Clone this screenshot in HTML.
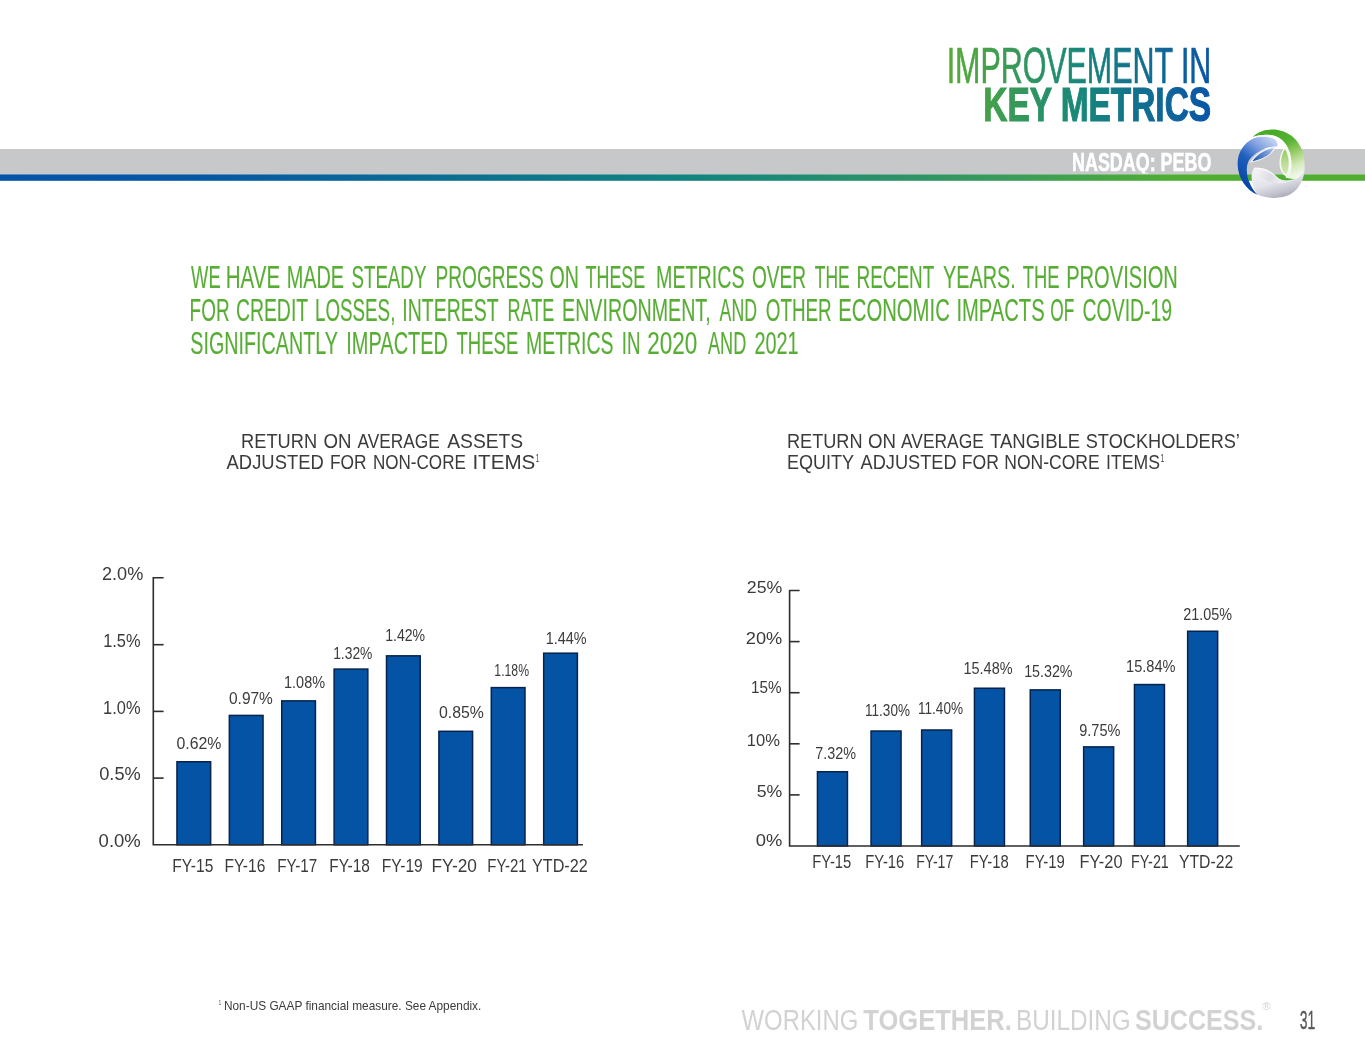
<!DOCTYPE html>
<html lang="en">
<head>
<meta charset="utf-8">
<title>Improvement in Key Metrics</title>
<style>
html,body{margin:0;padding:0;background:#fff;}
body{width:1365px;height:1062px;overflow:hidden;}
svg{display:block;font-family:"Liberation Sans",sans-serif;}
</style>
</head>
<body>
<svg width="1365" height="1062" viewBox="0 0 1365 1062">
<defs>
<linearGradient id="gline" gradientUnits="userSpaceOnUse" x1="0" y1="0" x2="1365" y2="0">
<stop offset="0" stop-color="#0553a6"/>
<stop offset="0.14" stop-color="#0557a4"/>
<stop offset="0.5" stop-color="#12837f"/>
<stop offset="0.74" stop-color="#3a9b5a"/>
<stop offset="0.86" stop-color="#4fae32"/>
<stop offset="1" stop-color="#4fae32"/>
</linearGradient>
<linearGradient id="gtitle" gradientUnits="userSpaceOnUse" x1="949" y1="0" x2="1210" y2="0">
<stop offset="0" stop-color="#57ab36"/>
<stop offset="0.5" stop-color="#17877a"/>
<stop offset="1" stop-color="#0a55a8"/>
</linearGradient>
<clipPath id="cq"><rect x="1060" y="140" width="170" height="33.6"/></clipPath>
</defs>
<rect x="0" y="149" width="1365" height="25.5" fill="#c7c8ca"/>
<rect x="0" y="174.4" width="1365" height="6.4" fill="url(#gline)"/>
<text id="t0" x="946.65" y="83.45" font-size="49.13" font-weight="normal" fill="url(#gtitle)" textLength="264.64" lengthAdjust="spacingAndGlyphs" stroke="url(#gtitle)" stroke-width="0.7">IMPROVEMENT IN</text>
<text id="t1" x="983.25" y="121.20" font-size="48.69" font-weight="bold" fill="url(#gtitle)" textLength="227.85" lengthAdjust="spacingAndGlyphs" stroke="url(#gtitle)" stroke-width="1.2">KEY METRICS</text>
<text id="t2" x="1072.05" y="170.90" font-size="25.44" font-weight="bold" fill="#ffffff" textLength="139.31" lengthAdjust="spacingAndGlyphs" stroke="#ffffff" stroke-width="0.6" clip-path="url(#cq)">NASDAQ: PEBO</text>
<text y="287.50" font-size="31.25" font-weight="normal" fill="#58ae35" stroke="#58ae35" stroke-width="0.15"><tspan id="t3" x="191.10" textLength="29.60" lengthAdjust="spacingAndGlyphs">WE</tspan> <tspan id="t4" x="225.65" textLength="54.45" lengthAdjust="spacingAndGlyphs">HAVE</tspan> <tspan id="t5" x="286.70" textLength="57.40" lengthAdjust="spacingAndGlyphs">MADE</tspan> <tspan id="t6" x="351.45" textLength="74.60" lengthAdjust="spacingAndGlyphs">STEADY</tspan> <tspan id="t7" x="435.55" textLength="108.15" lengthAdjust="spacingAndGlyphs">PROGRESS</tspan> <tspan id="t8" x="549.45" textLength="29.45" lengthAdjust="spacingAndGlyphs">ON</tspan> <tspan id="t9" x="585.50" textLength="59.75" lengthAdjust="spacingAndGlyphs">THESE</tspan> <tspan id="t10" x="656.00" textLength="88.60" lengthAdjust="spacingAndGlyphs">METRICS</tspan> <tspan id="t11" x="751.95" textLength="54.15" lengthAdjust="spacingAndGlyphs">OVER</tspan> <tspan id="t12" x="814.80" textLength="34.85" lengthAdjust="spacingAndGlyphs">THE</tspan> <tspan id="t13" x="856.50" textLength="77.46" lengthAdjust="spacingAndGlyphs">RECENT</tspan> <tspan id="t14" x="942.95" textLength="72.75" lengthAdjust="spacingAndGlyphs">YEARS.</tspan> <tspan id="t15" x="1022.80" textLength="36.80" lengthAdjust="spacingAndGlyphs">THE</tspan> <tspan id="t16" x="1066.20" textLength="111.69" lengthAdjust="spacingAndGlyphs">PROVISION</tspan></text>
<text y="320.50" font-size="31.25" font-weight="normal" fill="#58ae35" stroke="#58ae35" stroke-width="0.15"><tspan id="t17" x="189.60" textLength="39.95" lengthAdjust="spacingAndGlyphs">FOR</tspan> <tspan id="t18" x="235.90" textLength="71.90" lengthAdjust="spacingAndGlyphs">CREDIT</tspan> <tspan id="t19" x="315.00" textLength="80.35" lengthAdjust="spacingAndGlyphs">LOSSES,</tspan> <tspan id="t20" x="402.35" textLength="96.05" lengthAdjust="spacingAndGlyphs">INTEREST</tspan> <tspan id="t21" x="507.40" textLength="46.90" lengthAdjust="spacingAndGlyphs">RATE</tspan> <tspan id="t22" x="562.05" textLength="148.60" lengthAdjust="spacingAndGlyphs">ENVIRONMENT,</tspan> <tspan id="t23" x="719.60" textLength="37.46" lengthAdjust="spacingAndGlyphs">AND</tspan> <tspan id="t24" x="765.80" textLength="65.85" lengthAdjust="spacingAndGlyphs">OTHER</tspan> <tspan id="t25" x="838.25" textLength="111.55" lengthAdjust="spacingAndGlyphs">ECONOMIC</tspan> <tspan id="t26" x="956.40" textLength="88.24" lengthAdjust="spacingAndGlyphs">IMPACTS</tspan> <tspan id="t27" x="1050.35" textLength="23.99" lengthAdjust="spacingAndGlyphs">OF</tspan> <tspan id="t28" x="1082.55" textLength="89.61" lengthAdjust="spacingAndGlyphs">COVID-19</tspan></text>
<text y="354.40" font-size="31.11" font-weight="normal" fill="#58ae35" stroke="#58ae35" stroke-width="0.15"><tspan id="t29" x="190.35" textLength="147.11" lengthAdjust="spacingAndGlyphs">SIGNIFICANTLY</tspan> <tspan id="t30" x="346.30" textLength="101.70" lengthAdjust="spacingAndGlyphs">IMPACTED</tspan> <tspan id="t31" x="456.50" textLength="61.75" lengthAdjust="spacingAndGlyphs">THESE</tspan> <tspan id="t32" x="526.00" textLength="87.55" lengthAdjust="spacingAndGlyphs">METRICS</tspan> <tspan id="t33" x="621.70" textLength="18.70" lengthAdjust="spacingAndGlyphs">IN</tspan> <tspan id="t34" x="647.15" textLength="49.99" lengthAdjust="spacingAndGlyphs">2020</tspan> <tspan id="t35" x="708.00" textLength="38.21" lengthAdjust="spacingAndGlyphs">AND</tspan> <tspan id="t36" x="754.45" textLength="44.14" lengthAdjust="spacingAndGlyphs">2021</tspan></text>
<text y="447.70" font-size="20.79" font-weight="normal" fill="#3b3b3d"><tspan id="t37" x="241.05" textLength="76.04" lengthAdjust="spacingAndGlyphs">RETURN</tspan> <tspan id="t38" x="323.40" textLength="28.00" lengthAdjust="spacingAndGlyphs">ON</tspan> <tspan id="t39" x="357.55" textLength="82.20" lengthAdjust="spacingAndGlyphs">AVERAGE</tspan> <tspan id="t40" x="447.20" textLength="76.00" lengthAdjust="spacingAndGlyphs">ASSETS</tspan></text>
<text y="468.90" font-size="20.79" font-weight="normal" fill="#3b3b3d"><tspan id="t41" x="226.60" textLength="97.11" lengthAdjust="spacingAndGlyphs">ADJUSTED</tspan> <tspan id="t42" x="329.95" textLength="36.65" lengthAdjust="spacingAndGlyphs">FOR</tspan> <tspan id="t43" x="372.90" textLength="92.96" lengthAdjust="spacingAndGlyphs">NON-CORE</tspan> <tspan id="t44" x="472.40" textLength="62.99" lengthAdjust="spacingAndGlyphs">ITEMS</tspan></text>
<text id="t45" x="535.85" y="462.40" font-size="10.90" font-weight="normal" fill="#3b3b3d" textLength="3.40" lengthAdjust="spacingAndGlyphs">1</text>
<text y="447.90" font-size="20.79" font-weight="normal" fill="#3b3b3d"><tspan id="t46" x="786.95" textLength="75.64" lengthAdjust="spacingAndGlyphs">RETURN</tspan> <tspan id="t47" x="867.90" textLength="28.00" lengthAdjust="spacingAndGlyphs">ON</tspan> <tspan id="t48" x="901.00" textLength="82.80" lengthAdjust="spacingAndGlyphs">AVERAGE</tspan> <tspan id="t49" x="990.00" textLength="90.24" lengthAdjust="spacingAndGlyphs">TANGIBLE</tspan> <tspan id="t50" x="1085.75" textLength="154.16" lengthAdjust="spacingAndGlyphs">STOCKHOLDERS’</tspan></text>
<text y="468.50" font-size="20.64" font-weight="normal" fill="#3b3b3d"><tspan id="t51" x="786.95" textLength="66.79" lengthAdjust="spacingAndGlyphs">EQUITY</tspan> <tspan id="t52" x="860.50" textLength="96.16" lengthAdjust="spacingAndGlyphs">ADJUSTED</tspan> <tspan id="t53" x="961.85" textLength="37.15" lengthAdjust="spacingAndGlyphs">FOR</tspan> <tspan id="t54" x="1004.30" textLength="95.36" lengthAdjust="spacingAndGlyphs">NON-CORE</tspan> <tspan id="t55" x="1106.05" textLength="53.99" lengthAdjust="spacingAndGlyphs">ITEMS</tspan></text>
<text id="t56" x="1160.45" y="462.40" font-size="10.90" font-weight="normal" fill="#3b3b3d" textLength="3.70" lengthAdjust="spacingAndGlyphs">1</text>
<rect x="176.95" y="761.76" width="33.7" height="83.04" fill="#0553a4" stroke="#06234c" stroke-width="1.5"/>
<rect x="229.34" y="715.42" width="33.7" height="129.38" fill="#0553a4" stroke="#06234c" stroke-width="1.5"/>
<rect x="281.73" y="700.86" width="33.7" height="143.94" fill="#0553a4" stroke="#06234c" stroke-width="1.5"/>
<rect x="334.12" y="669.08" width="33.7" height="175.72" fill="#0553a4" stroke="#06234c" stroke-width="1.5"/>
<rect x="386.51" y="655.84" width="33.7" height="188.96" fill="#0553a4" stroke="#06234c" stroke-width="1.5"/>
<rect x="438.90" y="731.31" width="33.7" height="113.49" fill="#0553a4" stroke="#06234c" stroke-width="1.5"/>
<rect x="491.29" y="687.62" width="33.7" height="157.18" fill="#0553a4" stroke="#06234c" stroke-width="1.5"/>
<rect x="543.68" y="653.19" width="33.7" height="191.61" fill="#0553a4" stroke="#06234c" stroke-width="1.5"/>
<path d="M163.6 577.7H153.3V844.8H582.9" fill="none" stroke="#2d2d2f" stroke-width="1.6"/>
<path d="M153.3 778.1H163.6" stroke="#2d2d2f" stroke-width="1.6"/>
<path d="M153.3 711.4H163.6" stroke="#2d2d2f" stroke-width="1.6"/>
<path d="M153.3 644.7H163.6" stroke="#2d2d2f" stroke-width="1.6"/>
<text id="t57" x="102.00" y="580.30" font-size="18.00" font-weight="normal" fill="#3b3b3d" textLength="41.31" lengthAdjust="spacingAndGlyphs">2.0%</text>
<text id="t58" x="103.20" y="646.80" font-size="18.00" font-weight="normal" fill="#3b3b3d" textLength="37.30" lengthAdjust="spacingAndGlyphs">1.5%</text>
<text id="t59" x="103.10" y="713.50" font-size="18.00" font-weight="normal" fill="#3b3b3d" textLength="37.40" lengthAdjust="spacingAndGlyphs">1.0%</text>
<text id="t60" x="99.20" y="780.30" font-size="18.00" font-weight="normal" fill="#3b3b3d" textLength="41.56" lengthAdjust="spacingAndGlyphs">0.5%</text>
<text id="t61" x="98.60" y="846.90" font-size="18.00" font-weight="normal" fill="#3b3b3d" textLength="42.16" lengthAdjust="spacingAndGlyphs">0.0%</text>
<text id="t62" x="176.55" y="749.10" font-size="16.00" font-weight="normal" fill="#3b3b3d" textLength="44.91" lengthAdjust="spacingAndGlyphs">0.62%</text>
<text id="t63" x="229.00" y="704.10" font-size="16.00" font-weight="normal" fill="#3b3b3d" textLength="43.86" lengthAdjust="spacingAndGlyphs">0.97%</text>
<text id="t64" x="284.05" y="687.90" font-size="16.00" font-weight="normal" fill="#3b3b3d" textLength="41.01" lengthAdjust="spacingAndGlyphs">1.08%</text>
<text id="t65" x="333.15" y="658.50" font-size="16.00" font-weight="normal" fill="#3b3b3d" textLength="39.26" lengthAdjust="spacingAndGlyphs">1.32%</text>
<text id="t66" x="385.15" y="640.80" font-size="16.00" font-weight="normal" fill="#3b3b3d" textLength="39.96" lengthAdjust="spacingAndGlyphs">1.42%</text>
<text id="t67" x="439.00" y="717.90" font-size="16.00" font-weight="normal" fill="#3b3b3d" textLength="44.96" lengthAdjust="spacingAndGlyphs">0.85%</text>
<text id="t68" x="494.35" y="676.00" font-size="16.00" font-weight="normal" fill="#3b3b3d" textLength="34.66" lengthAdjust="spacingAndGlyphs">1.18%</text>
<text id="t69" x="545.65" y="644.00" font-size="16.00" font-weight="normal" fill="#3b3b3d" textLength="40.86" lengthAdjust="spacingAndGlyphs">1.44%</text>
<text id="t70" x="172.35" y="871.60" font-size="18.00" font-weight="normal" fill="#3b3b3d" textLength="40.96" lengthAdjust="spacingAndGlyphs">FY-15</text>
<text id="t71" x="224.40" y="871.60" font-size="18.00" font-weight="normal" fill="#3b3b3d" textLength="40.96" lengthAdjust="spacingAndGlyphs">FY-16</text>
<text id="t72" x="277.30" y="871.60" font-size="18.00" font-weight="normal" fill="#3b3b3d" textLength="39.96" lengthAdjust="spacingAndGlyphs">FY-17</text>
<text id="t73" x="329.20" y="871.60" font-size="18.00" font-weight="normal" fill="#3b3b3d" textLength="40.71" lengthAdjust="spacingAndGlyphs">FY-18</text>
<text id="t74" x="381.80" y="871.60" font-size="18.00" font-weight="normal" fill="#3b3b3d" textLength="40.96" lengthAdjust="spacingAndGlyphs">FY-19</text>
<text id="t75" x="431.45" y="871.60" font-size="18.00" font-weight="normal" fill="#3b3b3d" textLength="45.51" lengthAdjust="spacingAndGlyphs">FY-20</text>
<text id="t76" x="487.30" y="871.60" font-size="18.00" font-weight="normal" fill="#3b3b3d" textLength="39.41" lengthAdjust="spacingAndGlyphs">FY-21</text>
<text id="t77" x="532.00" y="871.60" font-size="18.00" font-weight="normal" fill="#3b3b3d" textLength="55.71" lengthAdjust="spacingAndGlyphs">YTD-22</text>
<rect x="817.45" y="771.74" width="30.0" height="74.26" fill="#0553a4" stroke="#06234c" stroke-width="1.5"/>
<rect x="871.05" y="731.02" width="30.0" height="114.98" fill="#0553a4" stroke="#06234c" stroke-width="1.5"/>
<rect x="921.65" y="729.99" width="30.0" height="116.01" fill="#0553a4" stroke="#06234c" stroke-width="1.5"/>
<rect x="974.45" y="688.24" width="30.0" height="157.76" fill="#0553a4" stroke="#06234c" stroke-width="1.5"/>
<rect x="1030.25" y="689.88" width="30.0" height="156.12" fill="#0553a4" stroke="#06234c" stroke-width="1.5"/>
<rect x="1083.65" y="746.88" width="30.0" height="99.12" fill="#0553a4" stroke="#06234c" stroke-width="1.5"/>
<rect x="1134.45" y="684.56" width="30.0" height="161.44" fill="#0553a4" stroke="#06234c" stroke-width="1.5"/>
<rect x="1187.65" y="631.25" width="30.0" height="214.75" fill="#0553a4" stroke="#06234c" stroke-width="1.5"/>
<path d="M799.6 590.5H789.6V846.0H1239.8" fill="none" stroke="#2d2d2f" stroke-width="1.6"/>
<path d="M789.6 794.9H799.6" stroke="#2d2d2f" stroke-width="1.6"/>
<path d="M789.6 743.8H799.6" stroke="#2d2d2f" stroke-width="1.6"/>
<path d="M789.6 692.7H799.6" stroke="#2d2d2f" stroke-width="1.6"/>
<path d="M789.6 641.6H799.6" stroke="#2d2d2f" stroke-width="1.6"/>
<text id="t78" x="746.80" y="593.40" font-size="17.00" font-weight="normal" fill="#3b3b3d" textLength="35.51" lengthAdjust="spacingAndGlyphs">25%</text>
<text id="t79" x="745.85" y="644.40" font-size="17.00" font-weight="normal" fill="#3b3b3d" textLength="36.46" lengthAdjust="spacingAndGlyphs">20%</text>
<text id="t80" x="751.10" y="692.70" font-size="17.00" font-weight="normal" fill="#3b3b3d" textLength="30.51" lengthAdjust="spacingAndGlyphs">15%</text>
<text id="t81" x="746.75" y="746.40" font-size="17.00" font-weight="normal" fill="#3b3b3d" textLength="33.11" lengthAdjust="spacingAndGlyphs">10%</text>
<text id="t82" x="756.75" y="797.20" font-size="17.00" font-weight="normal" fill="#3b3b3d" textLength="25.56" lengthAdjust="spacingAndGlyphs">5%</text>
<text id="t83" x="755.75" y="845.80" font-size="17.00" font-weight="normal" fill="#3b3b3d" textLength="26.56" lengthAdjust="spacingAndGlyphs">0%</text>
<text id="t84" x="815.30" y="759.40" font-size="16.00" font-weight="normal" fill="#3b3b3d" textLength="40.76" lengthAdjust="spacingAndGlyphs">7.32%</text>
<text id="t85" x="865.05" y="716.30" font-size="16.00" font-weight="normal" fill="#3b3b3d" textLength="44.91" lengthAdjust="spacingAndGlyphs">11.30%</text>
<text id="t86" x="917.95" y="714.20" font-size="16.00" font-weight="normal" fill="#3b3b3d" textLength="45.11" lengthAdjust="spacingAndGlyphs">11.40%</text>
<text id="t87" x="963.50" y="673.50" font-size="16.00" font-weight="normal" fill="#3b3b3d" textLength="49.04" lengthAdjust="spacingAndGlyphs">15.48%</text>
<text id="t88" x="1024.20" y="676.60" font-size="16.00" font-weight="normal" fill="#3b3b3d" textLength="48.34" lengthAdjust="spacingAndGlyphs">15.32%</text>
<text id="t89" x="1079.25" y="736.00" font-size="16.00" font-weight="normal" fill="#3b3b3d" textLength="41.21" lengthAdjust="spacingAndGlyphs">9.75%</text>
<text id="t90" x="1126.05" y="671.90" font-size="16.00" font-weight="normal" fill="#3b3b3d" textLength="49.49" lengthAdjust="spacingAndGlyphs">15.84%</text>
<text id="t91" x="1183.25" y="619.80" font-size="16.00" font-weight="normal" fill="#3b3b3d" textLength="48.79" lengthAdjust="spacingAndGlyphs">21.05%</text>
<text id="t92" x="812.30" y="867.80" font-size="17.80" font-weight="normal" fill="#3b3b3d" textLength="39.06" lengthAdjust="spacingAndGlyphs">FY-15</text>
<text id="t93" x="865.30" y="867.80" font-size="17.80" font-weight="normal" fill="#3b3b3d" textLength="39.01" lengthAdjust="spacingAndGlyphs">FY-16</text>
<text id="t94" x="916.25" y="867.80" font-size="17.80" font-weight="normal" fill="#3b3b3d" textLength="37.01" lengthAdjust="spacingAndGlyphs">FY-17</text>
<text id="t95" x="969.75" y="867.80" font-size="17.80" font-weight="normal" fill="#3b3b3d" textLength="39.06" lengthAdjust="spacingAndGlyphs">FY-18</text>
<text id="t96" x="1025.60" y="867.80" font-size="17.80" font-weight="normal" fill="#3b3b3d" textLength="39.21" lengthAdjust="spacingAndGlyphs">FY-19</text>
<text id="t97" x="1079.45" y="867.80" font-size="17.80" font-weight="normal" fill="#3b3b3d" textLength="43.06" lengthAdjust="spacingAndGlyphs">FY-20</text>
<text id="t98" x="1131.10" y="867.80" font-size="17.80" font-weight="normal" fill="#3b3b3d" textLength="37.76" lengthAdjust="spacingAndGlyphs">FY-21</text>
<text id="t99" x="1178.90" y="867.80" font-size="17.80" font-weight="normal" fill="#3b3b3d" textLength="54.26" lengthAdjust="spacingAndGlyphs">YTD-22</text>
<text id="t100" x="218.85" y="1005.40" font-size="7.40" font-weight="normal" fill="#3b3b3d" textLength="2.35" lengthAdjust="spacingAndGlyphs">1</text>
<text id="t101" x="223.95" y="1009.50" font-size="12.60" font-weight="normal" fill="#3b3b3d" textLength="257.40" lengthAdjust="spacingAndGlyphs">Non-US GAAP financial measure. See Appendix.</text>
<text id="t102" x="741.60" y="1029.80" font-size="28.92" font-weight="normal" fill="#d2d2d3" textLength="116.69" lengthAdjust="spacingAndGlyphs">WORKING</text>
<text id="t103" x="863.30" y="1029.80" font-size="28.92" font-weight="bold" fill="#d2d2d3" textLength="148.51" lengthAdjust="spacingAndGlyphs">TOGETHER.</text>
<text id="t104" x="1015.95" y="1029.80" font-size="28.92" font-weight="normal" fill="#d2d2d3" textLength="114.80" lengthAdjust="spacingAndGlyphs">BUILDING</text>
<text id="t105" x="1134.90" y="1029.80" font-size="28.92" font-weight="bold" fill="#d2d2d3" textLength="128.36" lengthAdjust="spacingAndGlyphs">SUCCESS.</text>
<text id="t106" x="1262.25" y="1009.50" font-size="10.00" font-weight="normal" fill="#d2d2d3" textLength="8.50" lengthAdjust="spacingAndGlyphs">®</text>
<text id="t107" x="1299.80" y="1029.40" font-size="26.00" font-weight="normal" fill="#58585a" textLength="15.50" lengthAdjust="spacingAndGlyphs" stroke="#58585a" stroke-width="0.35">31</text>
<g transform="translate(1230,120) scale(0.080038)">
<defs>
<linearGradient id="lgB" gradientUnits="userSpaceOnUse" x1="150" y1="760" x2="560" y2="250">
<stop offset="0" stop-color="#0a48a8"/><stop offset="0.4" stop-color="#1f5fbe"/><stop offset="0.7" stop-color="#7f9fe0"/><stop offset="1" stop-color="#c6d5f2"/>
</linearGradient>
<linearGradient id="lgB2" gradientUnits="userSpaceOnUse" x1="280" y1="520" x2="560" y2="350">
<stop offset="0" stop-color="#1c4fa6"/><stop offset="0.6" stop-color="#6f93d4"/><stop offset="1" stop-color="#b4c8ec"/>
</linearGradient>
<linearGradient id="lgG" gradientUnits="userSpaceOnUse" x1="600" y1="130" x2="850" y2="680">
<stop offset="0" stop-color="#48ab28"/><stop offset="0.3" stop-color="#58b332"/><stop offset="0.55" stop-color="#98cd68"/><stop offset="0.8" stop-color="#d2e9b8"/><stop offset="1" stop-color="#eef7e6"/>
</linearGradient>
<linearGradient id="lgG2" gradientUnits="userSpaceOnUse" x1="690" y1="350" x2="690" y2="700">
<stop offset="0" stop-color="#8fc85e"/><stop offset="0.5" stop-color="#b9dc90"/><stop offset="1" stop-color="#d6ebbc"/>
</linearGradient>
<linearGradient id="lgS" gradientUnits="userSpaceOnUse" x1="520" y1="620" x2="620" y2="980">
<stop offset="0" stop-color="#f1f1f5"/><stop offset="0.45" stop-color="#e3e3ea"/><stop offset="0.8" stop-color="#c3c3cf"/><stop offset="1" stop-color="#a9a9b8"/>
</linearGradient>
<linearGradient id="lgS2" gradientUnits="userSpaceOnUse" x1="330" y1="620" x2="620" y2="780">
<stop offset="0" stop-color="#f4f4f8"/><stop offset="0.6" stop-color="#dcdce4"/><stop offset="1" stop-color="#ececf2"/>
</linearGradient>
</defs>
<!-- green ribbon -->
<path d="M285 212C400 95 640 80 800 225C905 325 950 480 925 600C915 660 890 700 850 725C800 745 740 735 700 715C760 690 775 600 765 500C750 380 700 270 600 215C510 172 390 180 285 212Z" fill="url(#lgG)"/>
<path d="M315 214C400 190 510 188 598 226C692 278 744 385 757 500C766 600 752 680 705 712" fill="none" stroke="#ffffff" stroke-width="20" stroke-linecap="round" opacity="0.92"/>
<path d="M690 335C640 390 610 480 620 570C630 640 660 690 705 705C745 660 760 580 750 490C742 420 720 365 690 335Z" fill="#f4faee"/>
<path d="M688 365C650 415 632 490 640 565C647 620 668 660 700 678C728 640 738 570 730 495C724 440 708 395 688 365Z" fill="url(#lgG2)"/>
<!-- silver ribbon -->
<path d="M300 598C420 585 520 640 590 715C640 765 720 775 800 745C870 715 915 650 932 560C945 700 880 850 760 925C640 990 480 985 345 935C290 850 265 750 270 690C275 650 285 620 300 598Z" fill="url(#lgS)"/>
<path d="M312 612C420 605 510 655 575 725C610 760 660 780 720 778C640 800 520 790 420 740C360 710 325 660 312 612Z" fill="url(#lgS2)"/>
<path d="M305 603C420 592 515 645 585 718C635 765 715 775 795 745C850 722 890 690 915 640" fill="none" stroke="#ffffff" stroke-width="12" stroke-linecap="round" opacity="0.85"/>
<!-- blue ribbon -->
<path d="M345 935C200 880 95 720 95 545C95 400 180 280 300 228C390 200 500 205 560 240C590 265 600 300 590 332C470 325 320 390 235 505C180 620 215 800 345 935Z" fill="url(#lgB)"/>
<path d="M248 535C310 420 440 340 572 332C556 415 420 510 248 535Z" fill="#eef3fc"/>
<path d="M280 515C340 430 440 368 545 354C520 425 410 490 280 515Z" fill="url(#lgB2)"/>
<text x="930" y="850" font-size="50" fill="#e6e4ec">®</text>
</g>

</svg>
</body>
</html>
